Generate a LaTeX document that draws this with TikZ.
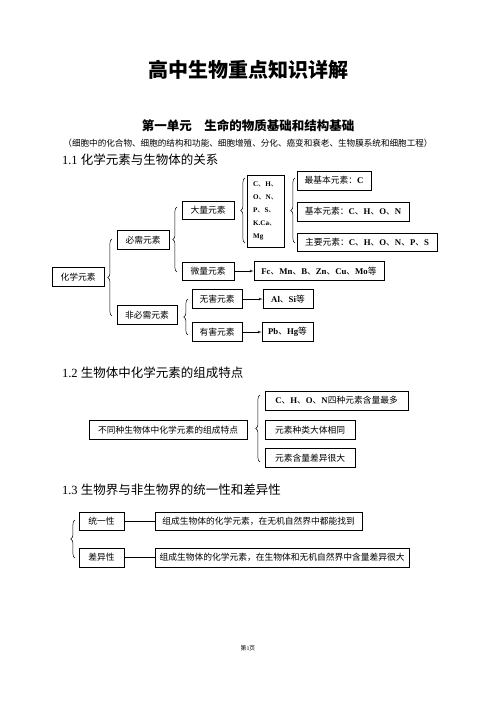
\documentclass[tikz,border=0pt]{standalone}
\usepackage{fontspec}
\setmainfont{Liberation Serif}
\newfontfamily\cjk{Noto Sans CJK SC}
\usetikzlibrary{arrows,positioning,decorations.pathreplacing}
\tikzset{box/.style={draw=black,line width=0.9pt,inner sep=1pt,minimum height=22.8pt,font=\cjk\fontsize{10.5}{12}\selectfont}}
\tikzset{wd/.style={minimum width=#1*1.2pt}}
\tikzset{brc/.style={decorate,decoration={brace,amplitude=5pt},line width=0.6pt}}
\newcommand{\el}[1]{{\rmfamily\bfseries #1}}

\begin{document}
\begin{tikzpicture}[x=1.2pt, y=-1.2pt, >=latex', semithick]
        \useasboundingbox (0,0) rectangle (496,702);
        % titles
        \node (title) at (248,70) {\cjk\bfseries\fontsize{24}{28}\selectfont 高中生物重点知识详解};
        \node (unit) at (248,126) {\cjk\bfseries\fontsize{15}{18}\selectfont 第一单元\quad 生命的物质基础和结构基础};
        \node (sub) at (248,143) {\cjk\fontsize{10.3}{12}\selectfont （细胞中的化合物、细胞的结构和功能、细胞增殖、分化、癌变和衰老、生物膜系统和细胞工程）};
        % 1.1
        \node[anchor=west] (h11) at (59,160) {\fontsize{15}{18}\selectfont 1.1 \cjk 化学元素与生物体的关系};
        \node[box,wd=52] (chem) at (78,277) {化学元素};
        \node[box,wd=52] (need) at (143,240) {必需元素};
        \node[box,wd=60] (noneed) at (147,315) {非必需元素};
        \node[box,wd=52,minimum height=21.6pt] (major) at (208,210) {大量元素};
        \node[box,wd=52,minimum height=21.6pt] (trace) at (208,271) {微量元素};
        \node[box,wd=50] (harmless) at (217,299) {无害元素};
        \node[box,wd=50] (harmful) at (217,332) {有害元素};
        \node[box,wd=37,minimum height=86.4pt,align=left,font=\cjk\fontsize{8.5}{15.6}\selectfont] (chon) at (265.5,211)
            {\el{C}、\el{H}、\\\el{O}、\el{N}、\\\el{P}、\el{S}、\\\el{K.Ca}、\\\el{Mg}};
        \node[box,wd=74] (basic1) at (334,180.5) {最基本元素：\el{C}};
        \node[box,wd=112] (basic2) at (353,211.5) {基本元素：\el{C}、\el{H}、\el{O}、\el{N}};
        \node[box,wd=140,minimum height=21.6pt] (mainel) at (367,242) {主要元素：\el{C}、\el{H}、\el{O}、\el{N}、\el{P}、\el{S}};
        \node[box,wd=130] (fc) at (319,271) {\el{Fc}、\el{Mn}、\el{B}、\el{Zn}、\el{Cu}、\el{Mo}等};
        \node[box,wd=50] (alsi) at (288,299) {\el{Al}、\el{Si}等};
        \node[box,wd=51] (pbhg) at (287.5,332) {\el{Pb}、\el{Hg}等};
        \coordinate (b1s) at (112,316); \coordinate (b1e) at (112,239);
        \coordinate (b2s) at (177,272); \coordinate (b2e) at (177,207);
        \coordinate (b3s) at (188,335); \coordinate (b3e) at (188,299);
        \coordinate (b4s) at (245,243); \coordinate (b4e) at (245,178);
        \coordinate (b5s) at (295,243); \coordinate (b5e) at (295,178);
        \draw[brc] (b1s) -- (b1e);
        \draw[brc] (b2s) -- (b2e);
        \draw[brc] (b3s) -- (b3e);
        \draw[brc] (b4s) -- (b4e);
        \draw[brc] (b5s) -- (b5e);
        \path (trace) edge[->] (fc);
        \path (harmless) edge[->] (alsi);
        \path (harmful) edge[->] (pbhg);
        % 1.2
        \node[anchor=west] (h12) at (59,373) {\fontsize{15}{18}\selectfont 1.2 \cjk 生物体中化学元素的组成特点};
        \node[box,wd=158] (feat) at (168,430) {不同种生物体中化学元素的组成特点};
        \node[box,wd=143] (c1) at (336.5,400.5) {\el{C}、\el{H}、\el{O}、\el{N}四种元素含量最多};
        \node[box,wd=90] (c2) at (310,430) {元素种类大体相同};
        \node[box,wd=90] (c3) at (310,458) {元素含量差异很大};
        \coordinate (b6s) at (260,462); \coordinate (b6e) at (260,395);
        \draw[brc] (b6s) -- (b6e);
        % 1.3
        \node[anchor=west] (h13) at (59,490) {\fontsize{15}{18}\selectfont 1.3 \cjk 生物界与非生物界的统一性和差异性};
        \node[box,wd=45,minimum height=21.6pt] (unity) at (101.5,521) {统一性};
        \node[box,wd=207,minimum height=21.6pt] (u2) at (258.5,521) {组成生物体的化学元素，在无机自然界中都能找到};
        \node[box,wd=45] (diff) at (101.5,557.5) {差异性};
        \node[box,wd=254] (d2) at (282,557.5) {组成生物体的化学元素，在生物体和无机自然界中含量差异很大};
        \coordinate (b7s) at (75,558); \coordinate (b7e) at (75,520);
        \draw[brc] (b7s) -- (b7e);
        \path (unity) edge (u2);
        \path (diff) edge (d2);
        % footer
        \node (page) at (248,648) {\cjk\fontsize{7}{8}\selectfont 第\rmfamily 1\cjk 页};
\end{tikzpicture}
\end{document}
